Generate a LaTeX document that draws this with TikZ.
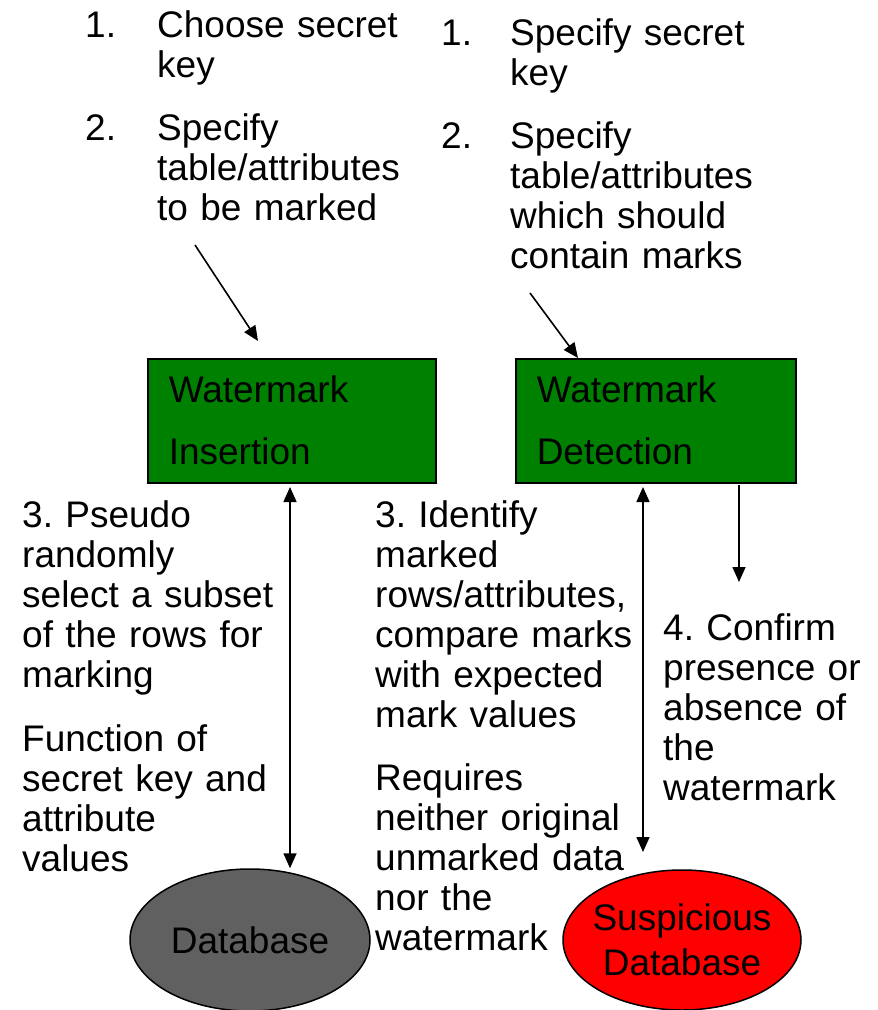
\documentclass[tikz,border=0pt]{standalone}
\usepackage{fontspec}
\setmainfont{Liberation Sans}
\usetikzlibrary{arrows.meta,shapes.geometric}
\definecolor{boxgreen}{RGB}{0,128,0}
\definecolor{dbgray}{RGB}{96,96,96}
\definecolor{dbred}{RGB}{255,0,0}
\frenchspacing
\begin{document}
\begin{tikzpicture}[x=1pt,y=-1pt,
  txt/.style={inner sep=0pt, anchor=base west, align=left, text width=#1,
    font=\fontsize{37}{40}\selectfont},
  txt/.default=320pt,
  wbox/.style={draw, line width=1.5pt, fill=boxgreen, anchor=north west,
    inner xsep=21pt, inner ysep=0pt, minimum height=124pt, align=left,
    font=\fontsize{37}{62}\selectfont},
  dbshape/.style={ellipse, draw, line width=1.5pt, inner sep=0pt,
    minimum width=240pt, minimum height=142pt},
  arr/.style={line width=1.6pt, -{Triangle[length=15pt,width=13pt]}},
  darr/.style={line width=1.6pt, {Triangle[length=15pt,width=13pt]}-{Triangle[length=15pt,width=13pt]}}
]
\useasboundingbox (0,0) rectangle (878,1010);

% insertion steps
\node[txt] (n1a) at (85,37) {1.};
\node[txt] (t1a) at (157,37) {Choose secret\\key};
\node[txt] (n1b) at (85,140) {2.};
\node[txt] (t1b) at (157,140) {Specify\\table/attributes\\to be marked};

% detection steps
\node[txt] (n2a) at (441,45) {1.};
\node[txt] (t2a) at (510,45) {Specify secret\\key};
\node[txt] (n2b) at (441,148) {2.};
\node[txt] (t2b) at (510,148) {Specify\\table/attributes\\which should\\contain marks};

% processing boxes
\node[wbox, text width=246pt] (ins) at (147,358) {Watermark\\Insertion};
\node[wbox, text width=238pt] (det) at (515,358) {Watermark\\Detection};

% databases
\node[dbshape, fill=dbgray, font=\fontsize{37}{45}\selectfont] (db) at (250,940) {Database};
\node[dbshape, fill=dbred, minimum width=238pt, minimum height=140pt] (sdb) at (682,940) {};
\node[inner sep=0pt, align=center, font=\fontsize{37}{45}\selectfont] (sdbt) at (sdb.center) {Suspicious\\Database};

% explanatory text
\node[txt] (p3) at (22,527) {3. Pseudo\\randomly\\select a subset\\of the rows for\\marking};
\node[txt] (pf) at (22,751) {Function of\\secret key and\\attribute\\values};
\node[txt] (i3) at (375,527) {3. Identify\\marked\\rows/attributes,\\compare marks\\with expected\\mark values};
\node[txt] (ir) at (375,790) {Requires\\neither original\\unmarked data\\nor the\\watermark};
\node[txt] (c4) at (663,640) {4. Confirm\\presence or\\absence of\\the\\watermark};

% connectors
\coordinate (a1s) at (195,245);
\coordinate (a1e) at (258,341);
\draw[arr] (a1s) -- (a1e);
\coordinate (a2s) at (530,293);
\coordinate (a2e) at (578,358);
\draw[arr] (a2s) -- (a2e);

\coordinate (b1) at (290,487);
\draw[darr] (b1) -- (b1 |- db.north);
\coordinate (b2) at (643,487);
\coordinate (b2e) at (643,852);
\draw[darr] (b2) -- (b2e);
\coordinate (b3) at (739,485);
\coordinate (b3e) at (739,582);
\draw[arr] (b3) -- (b3e);
\end{tikzpicture}
\end{document}
